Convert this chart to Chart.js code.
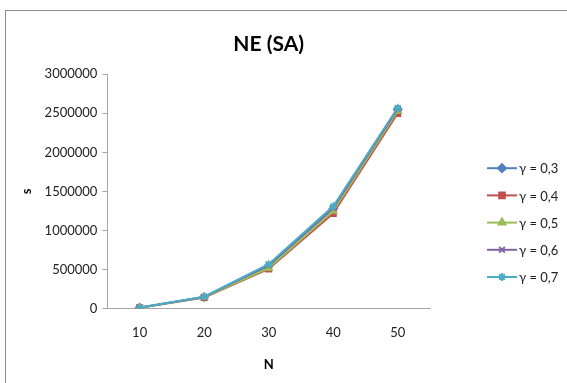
<!DOCTYPE html>
<html>
<head>
<meta charset="utf-8">
<script src="https://cdn.jsdelivr.net/npm/chart.js@4.4.1/dist/chart.umd.min.js"></script>
<style>
  html, body { margin: 0; padding: 0; background: #fff; overflow: hidden; }
  #frame { position: absolute; left: 5px; top: 10px; width: 620px; height: 420px;
           border: 1.5px solid #8c8c8c; box-sizing: border-box; }
  #wrap { position: absolute; left: 0; top: 0; width: 567px; height: 383px; }
</style>
</head>
<body>
<div id="frame"></div>
<div id="wrap"><canvas id="c" width="567" height="383"></canvas></div>
<script>
// Problem size N on the x axis
const categories = ['10', '20', '30', '40', '50'];

// Series labels
const seriesNames = ['γ = 0,3', 'γ = 0,4', 'γ = 0,5', 'γ = 0,6', 'γ = 0,7'];

// s values per series
const g03 = [15000, 150000, 550000, 1280000, 2550000];
const g04 = [13000, 145000, 510000, 1220000, 2500000];
const g05 = [14000, 148000, 520000, 1250000, 2530000];
const g06 = [15000, 152000, 560000, 1290000, 2560000];
const g07 = [16000, 155000, 570000, 1310000, 2570000];

const yTicks = [0, 500000, 1000000, 1500000, 2000000, 2500000, 3000000];

const seriesValues = [g03, g04, g05, g06, g07];
const colors = ['#4F81BD', '#C0504D', '#9BBB59', '#8064A2', '#4BACC6'];
const markers = ['rectRot', 'rect', 'triangle', 'crossRot', 'star'];

const FONT = 'Lato, "Open Sans", sans-serif';

const datasets = seriesValues.map((vals, i) => ({
  label: seriesNames[i],
  data: vals,
  borderColor: colors[i],
  backgroundColor: colors[i],
  borderWidth: 2,
  pointStyle: markers[i],
  pointRadius: 4,
  pointBorderWidth: 1.5,
  pointHoverRadius: 4,
  tension: 0,
  // later series are painted on top
  order: seriesValues.length - i
}));

// Legend to the right of the plot: a short line with the series marker, then the label
const sideLegend = {
  id: 'sideLegend',
  afterDraw(chart) {
    const { ctx, chartArea } = chart;
    const x0 = chartArea.right + 57;
    const y0 = chartArea.top + 94;
    const step = 27.2;
    ctx.save();
    seriesNames.forEach((name, i) => {
      const y = y0 + i * step;
      ctx.strokeStyle = colors[i];
      ctx.lineWidth = 2;
      ctx.beginPath();
      ctx.moveTo(x0, y);
      ctx.lineTo(x0 + 30, y);
      ctx.stroke();
      ctx.fillStyle = colors[i];
      Chart.helpers.drawPoint(ctx, {
        pointStyle: markers[i], radius: 4, rotation: 0, borderWidth: 1.5
      }, x0 + 15, y);
      ctx.fillStyle = '#222';
      ctx.font = '13px ' + FONT;
      ctx.textBaseline = 'middle';
      ctx.textAlign = 'left';
      ctx.fillText(name, x0 + 32, y + 1);
    });
    ctx.restore();
  }
};

new Chart(document.getElementById('c'), {
  type: 'line',
  data: { labels: categories, datasets },
  plugins: [sideLegend],
  options: {
    responsive: false,
    animation: false,
    devicePixelRatio: 1,
    layout: { padding: { left: 19, right: 137, top: 32, bottom: 10 } },
    plugins: {
      title: {
        display: true,
        text: 'NE (SA)',
        fullSize: false,
        color: '#000',
        font: { family: FONT, size: 21, weight: 'bold' },
        padding: { top: 0, bottom: 17 }
      },
      legend: { display: false },
      tooltip: { enabled: false }
    },
    scales: {
      x: {
        offset: true,
        grid: { display: false, drawTicks: false },
        border: { color: '#a6a6a6', width: 1 },
        ticks: { color: '#222', font: { family: FONT, size: 13 }, padding: 16.5 },
        title: {
          display: true, text: 'N', color: '#000',
          font: { family: FONT, size: 13, weight: 'bold' },
          padding: { top: 0, bottom: 0 }
        }
      },
      y: {
        min: 0,
        max: 3000000,
        afterBuildTicks: (axis) => { axis.ticks = yTicks.map(v => ({ value: v })); },
        grid: { drawOnChartArea: false, drawTicks: true, tickLength: 5, color: '#a6a6a6' },
        border: { color: '#a6a6a6', width: 1 },
        ticks: {
          color: '#222', font: { family: FONT, size: 13 }, padding: 5,
          callback: (v) => String(v)
        },
        title: {
          display: true, text: 's', color: '#000',
          font: { family: FONT, size: 13, weight: 'bold' },
          padding: { top: 0, bottom: 5 }
        }
      }
    }
  }
});
</script>
</body>
</html>
